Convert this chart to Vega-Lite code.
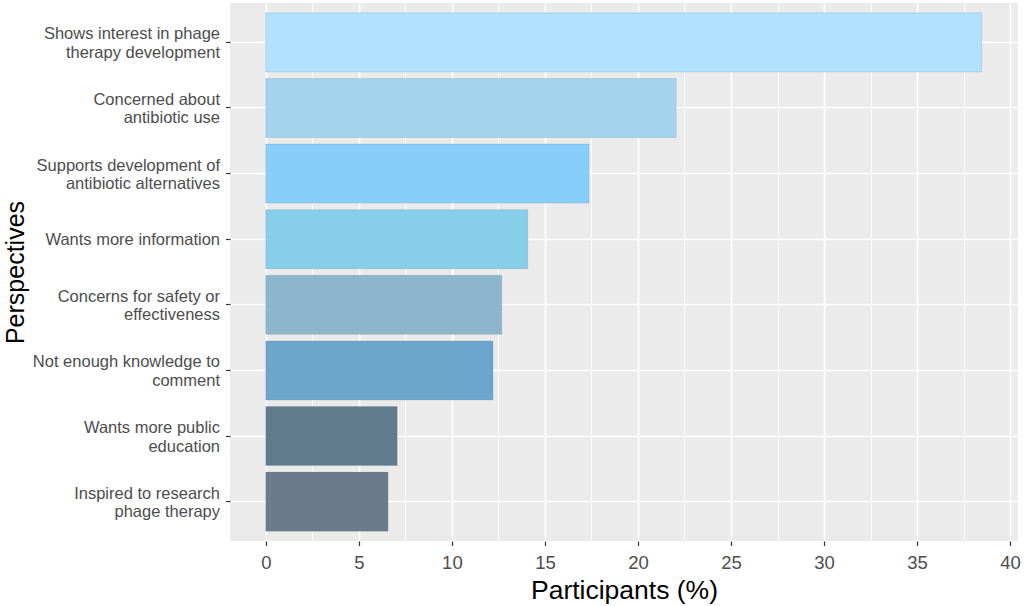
{
  "$schema": "https://vega.github.io/schema/vega-lite/v6.json",
  "width": 788,
  "height": 538,
  "autosize": {"type": "none"},
  "padding": {"left": 230, "top": 3, "right": 6, "bottom": 65},
  "background": "white",
  "config": {
    "view": {"fill": "#EBEBEB", "stroke": null},
    "font": "Liberation Sans"
  },
  "data": {
    "values": [
      {"perspective": "Shows interest in phage|therapy development", "participants": 38.47},
      {"perspective": "Concerned about|antibiotic use", "participants": 22.05},
      {"perspective": "Supports development of|antibiotic alternatives", "participants": 17.37},
      {"perspective": "Wants more information", "participants": 14.08},
      {"perspective": "Concerns for safety or|effectiveness", "participants": 12.68},
      {"perspective": "Not enough knowledge to|comment", "participants": 12.21},
      {"perspective": "Wants more public|education", "participants": 7.06},
      {"perspective": "Inspired to research|phage therapy", "participants": 6.57}
    ]
  },
  "mark": {"type": "bar", "strokeWidth": 0.8, "strokeOpacity": 0.25, "stroke": "#5a7a90"},
  "encoding": {
    "y": {
      "field": "perspective",
      "type": "nominal",
      "sort": null,
      "scale": {"paddingInner": 0.1, "paddingOuter": 0.15},
      "axis": {
        "title": "Perspectives",
        "titleFontSize": 25,
        "titleFontWeight": "normal",
        "titleColor": "#000000",
        "titlePadding": 4,
        "labelExpr": "split(datum.label, '|')",
        "labelLimit": 400,
        "labelFontSize": 16.5,
        "labelLineHeight": 18.5,
        "labelColor": "#4D4D4D",
        "labelPadding": 6,
        "labelOffset": {"condition": {"test": "indexof(datum.value, '|') >= 0", "value": -8}, "value": 1},
        "tickColor": "#333333",
        "tickSize": 4.5,
        "tickWidth": 1.2,
        "domain": false,
        "grid": true,
        "gridColor": "#FFFFFF",
        "gridWidth": 1.6,
        "bandPosition": 0.5
      }
    },
    "x": {
      "field": "participants",
      "type": "quantitative",
      "scale": {"domain": [-1.925, 40.425], "nice": false, "zero": false},
      "axis": {
        "title": "Participants (%)",
        "titleFontSize": 26.5,
        "titleFontWeight": "normal",
        "titleColor": "#000000",
        "titlePadding": 5,
        "values": [0, 2.5, 5, 7.5, 10, 12.5, 15, 17.5, 20, 22.5, 25, 27.5, 30, 32.5, 35, 37.5, 40],
        "labelExpr": "datum.value % 5 === 0 ? datum.label : ''",
        "labelFontSize": 18.5,
        "labelColor": "#4D4D4D",
        "labelPadding": 8,
        "labelFlush": false,
        "labelOverlap": false,
        "tickColor": "#333333",
        "tickSize": 4.5,
        "tickWidth": 1.2,
        "tickOpacity": {"condition": {"test": "datum.value % 5 === 0", "value": 1}, "value": 0},
        "domain": false,
        "grid": true,
        "gridColor": "#FFFFFF",
        "gridWidth": {"condition": {"test": "datum.value % 5 === 0", "value": 1.6}, "value": 0.8}
      }
    },
    "x2": {"datum": 0},
    "color": {
      "field": "perspective",
      "type": "nominal",
      "legend": null,
      "scale": {
        "domain": [
          "Shows interest in phage|therapy development",
          "Concerned about|antibiotic use",
          "Supports development of|antibiotic alternatives",
          "Wants more information",
          "Concerns for safety or|effectiveness",
          "Not enough knowledge to|comment",
          "Wants more public|education",
          "Inspired to research|phage therapy"
        ],
        "range": ["#B0E2FF", "#A4D3EE", "#87CEFA", "#87CEEB", "#8DB6CD", "#6CA6CD", "#607B8B", "#6C7B8B"]
      }
    }
  }
}
